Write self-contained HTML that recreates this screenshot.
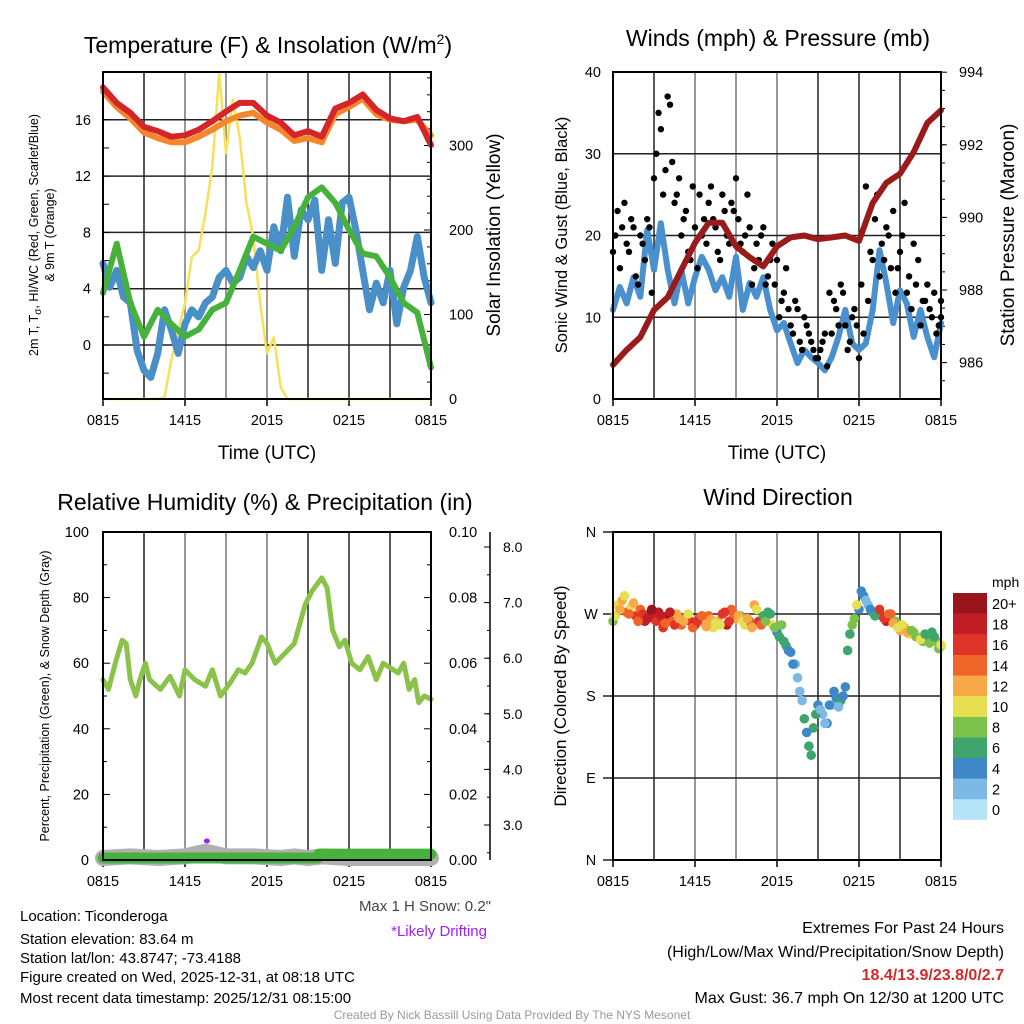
<!DOCTYPE html>
<html><head><meta charset="utf-8"><style>
body{margin:0;background:#fff;}
svg{display:block;font-family:"Liberation Sans",sans-serif;}
</style></head><body>
<svg id="fig" width="1024" height="1024" viewBox="0 0 1024 1024" xmlns="http://www.w3.org/2000/svg">
<rect width="1024" height="1024" fill="#fff"/>
<text x="268" y="53" font-size="23" text-anchor="middle">Temperature (F) &amp; Insolation (W/m<tspan font-size="14" dy="-9">2</tspan><tspan dy="9">)</tspan></text>
<text x="778" y="46" font-size="23" text-anchor="middle">Winds (mph) &amp; Pressure (mb)</text>
<text x="265" y="510" font-size="23" text-anchor="middle">Relative Humidity (%) &amp; Precipitation (in)</text>
<text x="778" y="505" font-size="23" text-anchor="middle">Wind Direction</text>
<g id="g1"></g>
<g id="g2"></g>
<g id="g3"></g>
<g id="g4"></g>
<g id="cb"></g>
<text x="38" y="235" font-size="12.5" text-anchor="middle" transform="rotate(-90 38 235)">2m T, T<tspan font-size="10" dy="3">σ</tspan><tspan dy="-3">, HI/WC (Red, Green, Scarlet/Blue)</tspan></text>
<text x="54" y="235" font-size="12.5" text-anchor="middle" transform="rotate(-90 54 235)">&amp; 9m T (Orange)</text>
<text x="500" y="235" font-size="19" text-anchor="middle" transform="rotate(-90 500 235)">Solar Insolation (Yellow)</text>
<text x="567" y="235" font-size="16.5" text-anchor="middle" transform="rotate(-90 567 235)">Sonic Wind &amp; Gust (Blue, Black)</text>
<text x="1014" y="235" font-size="19" text-anchor="middle" transform="rotate(-90 1014 235)">Station Pressure (Maroon)</text>
<text x="49" y="696" font-size="12.5" text-anchor="middle" transform="rotate(-90 49 696)">Percent, Precipitation (Green), &amp; Snow Depth (Gray)</text>
<text x="566" y="696" font-size="17" text-anchor="middle" transform="rotate(-90 566 696)">Direction (Colored By Speed)</text>
<text x="267" y="459" font-size="19" text-anchor="middle">Time (UTC)</text>
<text x="777" y="459" font-size="19" text-anchor="middle">Time (UTC)</text>
<text x="491" y="911" font-size="15" fill="#444" text-anchor="end">Max 1 H Snow: 0.2"</text>
<text x="487" y="936" font-size="15" fill="#a020f0" text-anchor="end">*Likely Drifting</text>
<g font-size="15">
<text x="20" y="921">Location: Ticonderoga</text>
<text x="20" y="944">Station elevation: 83.64 m</text>
<text x="20" y="963">Station lat/lon: 43.8747; -73.4188</text>
<text x="20" y="982">Figure created on Wed, 2025-12-31, at 08:18 UTC</text>
<text x="20" y="1003">Most recent data timestamp: 2025/12/31 08:15:00</text>
</g>
<g font-size="16" text-anchor="end">
<text x="1004" y="933">Extremes For Past 24 Hours</text>
<text x="1004" y="957">(High/Low/Max Wind/Precipitation/Snow Depth)</text>
<text x="1004" y="980" fill="#d42a2a" font-weight="bold">18.4/13.9/23.8/0/2.7</text>
<text x="1004" y="1003">Max Gust: 36.7 mph On 12/30 at 1200 UTC</text>
</g>
<text x="512" y="1019" font-size="12" fill="#999" text-anchor="middle">Created By Nick Bassill Using Data Provided By The NYS Mesonet</text>
</svg>
<script>
// ---------- data ----------
const timeLabels = ["0815","1415","2015","0215","0815"];
const tempRed = [18.3,17.2,16.5,15.5,15.2,14.8,14.9,15.3,15.9,16.6,17.2,17.2,16.3,15.8,14.9,15.2,14.8,16.8,17.2,17.8,16.7,16.1,15.9,16.2,14.2];
const tempOrange = [18.0,16.9,16.1,15.1,14.7,14.4,14.4,14.8,15.3,15.9,16.3,16.5,15.8,15.3,14.5,14.7,14.4,16.4,16.9,17.5,16.4,16.0,15.9,16.0,14.9];
const tempGreen = [3.7,7.2,3.0,0.6,2.5,1.5,0.6,1.1,2.5,3.0,5.3,7.7,7.2,6.7,8.4,10.5,11.2,10.1,8.2,6.5,6.3,4.8,3.0,2.3,-1.6];
const tempBlue = [5.8,4.1,5.3,3.4,3.0,-0.4,-1.8,-2.3,-0.6,2.5,1.1,-0.6,1.5,2.5,2.0,3.0,3.4,4.8,5.3,4.4,4.8,6.3,5.5,6.7,5.3,8.4,6.7,10.5,6.3,9.6,8.9,10.3,5.3,8.9,5.8,10.1,10.5,8.2,5.3,2.5,4.4,3.0,5.3,1.5,4.1,5.3,7.7,4.8,3.0];
const solar = [0,0,0,0,0,0,0,0,0,2,46,80,113,168,176,220,275,386,291,354,310,232,192,113,54,73,14,0,0,0,0,0,0,0,0,0,0,0,0,0,0,0,0,0,0,0,0,0,0];
const tempTicks = [0,4,8,12,16];
const solarTicks = [0,100,200,300];

const pressure = [985.94,986.35,986.7,987.45,987.8,988.55,989.3,989.85,989.85,989.2,988.9,988.65,989.2,989.45,989.5,989.4,989.45,989.5,989.35,990.4,990.95,991.2,991.8,992.6,992.95];
const sonic = [10.9,13.7,11.7,14.9,12.5,20.7,15.8,21.5,15.8,11.7,15.8,11.7,14.9,17.4,15.8,13.3,14.9,12.5,17.4,10.9,14.2,12.5,14.9,10.9,8.4,9.3,6.8,4.4,6.0,5.1,4.4,3.5,5.1,7.6,10.9,6.8,6.0,6.8,10.9,18.2,14.2,9.3,13.3,11.7,7.6,10.9,7.6,5.1,9.3];
const gustA = [18,23,21,19,22,15,20,17,21,27,35,25,37,29,25,20,23,17,21,25,22,24,22,18,25,20,24,27,19,20,21,16,17,21,15,19,17,12,16,9,12,7,10,8,6,5,7,4,8,11,14,9,7,11,5,8,12,17,25,19,21,16,13,18,24,15,19,17,12,14,10,8,12];
const gustB = [20,16,24,18,21,14,19,22,13,30,33,28,36,24,27,22,18,26,16,20,19,26,21,17,23,19,23,22,18,25,14,19,20,14,17,14,10,13,11,8,11,6,9,7,5,6,8,13,12,9,13,6,10,9,14,26,18,22,15,17,20,23,16,20,13,11,14,9,12,11,13,9,10];
const windTicks = [0,10,20,30,40];
const pressTicks = [986,988,990,992,994];

const rhHours = [0,0.4,0.9,1.4,1.7,2.0,2.4,2.7,3.1,3.4,4.2,4.9,5.6,6.0,6.7,7.5,8.0,8.6,9.3,9.9,10.4,10.9,11.6,12.0,12.6,13.3,14.0,14.8,15.3,16.0,16.4,16.8,17.3,17.7,18.2,18.8,19.4,20.0,20.5,21.6,22.0,22.4,22.8,23.1,23.5,24.0];
const rhValues = [55,52,60,67,66,55,50,55,60,55,52,56,50,58,55,53,58,50,54,58,57,60,68,66,60,63,66,78,82,86,83,70,65,67,60,58,62,55,60,57,60,52,55,48,50,49];
const snowHours = [0,2,4,6,7,7.5,8,9,11,13,14,15,16,18,20,22,24];
const snowDepth = [2.5,2.6,2.5,2.6,2.8,2.9,2.8,2.6,2.6,2.5,2.6,2.5,2.6,2.5,2.5,2.5,2.5];
const precipHours = [0,15.7,15.8,24];
const precipValues = [0,0,0.0012,0.0012];
const rhTicks = [0,20,40,60,80,100];
const precipTicks = [0,0.02,0.04,0.06,0.08,0.10];
const snowTicks = [3,4,5,6,7,8];

const windDir = [262,280,285,272,278,268,275,262,270,265,272,255,268,262,270,258,265,262,258,265,260,268,255,262,270,258,275,265,268,258,262,280,262,268,272,258,250,258,235,228,215,185,155,125,145,170,160,150,170,178,175,190,248,265,275,290,280,272,270,268,262,270,262,252,255,248,250,245,240,245,250,240,235];
const windSpd = [9,11,12,15,10,16,14,19,20,19,18,17,20,15,13,14,9,16,18,15,13,14,11,12,17,18,15,12,9,11,14,12,17,7,6,10,5,8,6,5,3,2,6,6,7,4,3,4,3,4,6,4,7,9,4,4,3,6,17,16,18,14,9,12,13,10,8,11,8,7,6,9,9];
const windDirB = [268,275,290,270,282,262,270,265,275,262,268,260,272,258,265,262,270,255,262,268,256,264,260,258,272,262,270,268,262,265,255,275,258,262,270,255,245,240,230,215,200,175,140,115,160,165,150,170,185,168,180,230,258,280,295,285,275,268,275,265,270,260,255,258,250,252,245,242,248,238,245,232,236];
const windSpdB = [10,12,11,14,12,15,16,18,21,17,19,15,18,16,12,13,11,15,17,14,12,13,10,11,16,17,14,13,10,12,13,11,15,8,7,9,6,7,5,4,2,3,5,7,6,3,2,5,4,3,5,6,8,10,5,3,4,7,16,17,15,13,10,11,12,9,9,10,7,8,7,8,10];
const dirTicks = ["N","E","S","W","N"];
const speedBins = ["0","2","4","6","8","10","12","14","16","18","20+"];
const speedColors = ["#b5e3f7","#7cb9e6","#3f88c7","#3ea56c","#7bc14b","#e6df52","#f8a947","#f0642a","#e03428","#c21d24","#9a1519"];

// ---------- helpers ----------
const NS="http://www.w3.org/2000/svg";
function mk(parent,tag,attrs){const e=document.createElementNS(NS,tag);for(const k in attrs)e.setAttribute(k,attrs[k]);parent.appendChild(e);return e;}
function lin(d0,d1,r0,r1){return v=>r0+(v-d0)*(r1-r0)/(d1-d0);}
function frame(g,x0,y0,x1,y1){
  const xs=lin(0,24,x0,x1);
  for(let h=3;h<24;h+=3){
    const l=mk(g,'line',{x1:xs(h),x2:xs(h),y1:y0,y2:y1,stroke:(h==6||h==9||h==12)?'#777':'#222','stroke-width':1.5});
    
    
  }
  for(let i=0;i<timeLabels.length;i++){
    const t=mk(g,'text',{x:xs(i*6),y:y1+26,'font-size':14.5,'text-anchor':'middle'});
    t.textContent=timeLabels[i];
    
    
    mk(g,'line',{x1:xs(i*6),x2:xs(i*6),y1:y1,y2:y1+7,stroke:'#000','stroke-width':1.5});
  }
  return xs;
}
function hgrid(g,x0,x1,y){const l=mk(g,'line',{x1:x0,x2:x1,y1:y,y2:y,stroke:'#222','stroke-width':1.5});
  
  }
function border(g,x0,y0,x1,y1){const r=mk(g,'rect',{x:x0,y:y0,width:x1-x0,height:y1-y0,fill:'none',stroke:'#000','stroke-width':2});
  
  }
function path(g,xsArr,ysArr,color,w,name){
  let d='';for(let i=0;i<xsArr.length;i++)d+=(i?'L':'M')+xsArr[i].toFixed(1)+' '+ysArr[i].toFixed(1);
  const p=mk(g,'path',{d:d,fill:'none',stroke:color,'stroke-width':w,'stroke-linejoin':'round','stroke-linecap':'round'});
  
  
  return p;
}
function tlabel(g,x,y,txt,anchor,size){const t=mk(g,'text',{x:x,y:y+5,'font-size':size||14.5,'text-anchor':anchor});t.textContent=txt;
  
  }
const hrs=(n)=>Array.from({length:n},(_,i)=>i*24/(n-1));

// ---------- panel 1 ----------
(function(){
  const g=document.getElementById('g1');const X0=103,Y0=72,X1=431,Y1=399;
  const xs=frame(g,X0,Y0,X1,Y1);
  const ys=lin(0,4,345,288.7);
  const ysS=lin(0,100,399,314.5);
  tempTicks.forEach(v=>{hgrid(g,X0,X1,ys(v));tlabel(g,X0-12,ys(v),String(v),'end');});
  for(let v=-2;v<=18;v+=2)mk(g,'line',{x1:X0,x2:X0+6,y1:ys(v),y2:ys(v),stroke:'#000'});
  solarTicks.forEach(v=>{tlabel(g,X1+18,ysS(v),String(v),'start');mk(g,'line',{x1:X1,x2:X1-7,y1:ysS(v),y2:ysS(v),stroke:'#000'});});
  for(let v=20;v<=380;v+=20)mk(g,'line',{x1:X1,x2:X1-4,y1:ysS(v),y2:ysS(v),stroke:'#000'});
  const h25=hrs(25),h49=hrs(49);
  path(g,hrs(solar.length).map(xs),solar.map(ysS),'#f7e15a',2.5,'solar-insolation-line');
  path(g,h49.map(xs),tempBlue.map(ys),'#4a8fc8',7,'scarlet-blue-line');
  path(g,h25.map(xs),tempGreen.map(ys),'#46b23c',6,'heat-index-windchill-line');
  path(g,h25.map(xs),tempOrange.map(ys),'#f5862c',6,'9m-temp-line');
  path(g,h25.map(xs),tempRed.map(ys),'#d42528',6,'2m-temp-line');
  border(g,X0,Y0,X1,Y1);
})();

// ---------- panel 2 ----------
(function(){
  const g=document.getElementById('g2');const X0=613,Y0=72,X1=941,Y1=399;
  const xs=frame(g,X0,Y0,X1,Y1);
  const ys=lin(0,10,399,317.25);
  const yp=lin(986,988,362.6,290);
  windTicks.forEach(v=>{hgrid(g,X0,X1,ys(v));tlabel(g,X0-12,ys(v),String(v),'end');});
  pressTicks.forEach(v=>{tlabel(g,X1+18,yp(v),String(v),'start');mk(g,'line',{x1:X1,x2:X1+6,y1:yp(v),y2:yp(v),stroke:'#000'});});
  for(let v=985.5;v<994;v+=0.5)mk(g,'line',{x1:X1,x2:X1+4,y1:yp(v),y2:yp(v),stroke:'#000'});
  path(g,hrs(49).map(xs),sonic.map(ys),'#4a90ce',6,'sonic-wind-line');
  const hA=hrs(gustA.length),hB=hrs(gustB.length);
  gustA.forEach((v,i)=>{const c=mk(g,'circle',{cx:xs(hA[i]),cy:ys(v),r:3.2,fill:'#000'});
    
    });
  gustB.forEach((v,i)=>{const c=mk(g,'circle',{cx:xs(Math.min(24,hB[i]+0.17)),cy:ys(v),r:3.2,fill:'#000'});
    
    });
  path(g,hrs(25).map(xs),pressure.map(yp),'#9a1b1b',6,'pressure-line');
  border(g,X0,Y0,X1,Y1);
})();

// ---------- panel 3 ----------
(function(){
  const g=document.getElementById('g3');const X0=103,Y0=532,X1=431,Y1=860;
  const xs=frame(g,X0,Y0,X1,Y1);
  const ys=lin(0,100,860,532);
  const yP=lin(0,0.1,860,532);
  const yS=lin(3,8,825,547);
  rhTicks.forEach(v=>{tlabel(g,X0-14,ys(v),String(v),'end');mk(g,'line',{x1:X0,x2:X0+7,y1:ys(v),y2:ys(v),stroke:'#000'});});
  for(let v=10;v<100;v+=20)mk(g,'line',{x1:X0,x2:X0+4,y1:ys(v),y2:ys(v),stroke:'#000'});
  precipTicks.forEach(v=>{tlabel(g,X1+18,yP(v),v.toFixed(2),'start');mk(g,'line',{x1:X1,x2:X1-7,y1:yP(v),y2:yP(v),stroke:'#000'});});
  for(let v=0.01;v<0.1;v+=0.02)mk(g,'line',{x1:X1,x2:X1-4,y1:yP(v),y2:yP(v),stroke:'#000'});
  const ax=mk(g,'line',{x1:490,x2:490,y1:532,y2:860,stroke:'#000','stroke-width':1.5});
  
  
  snowTicks.forEach(v=>{tlabel(g,503,yS(v),v.toFixed(1),'start',14);mk(g,'line',{x1:490,x2:484,y1:yS(v),y2:yS(v),stroke:'#000'});});
  for(let v=2.5;v<=8;v+=0.5)mk(g,'line',{x1:490,x2:487,y1:yS(v),y2:yS(v),stroke:'#000'});
  const ysd=lin(2.5,3.0,858,850);
  path(g,snowHours.map(xs),snowDepth.map(ysd),'#b0b0b0',16,'snow-depth-line');
  path(g,precipHours.map(xs),precipValues.map(v=>yP(v)-2),'#46b23c',11,'precipitation-line');
  const d=mk(g,'ellipse',{cx:xs(7.6),cy:841,rx:3,ry:2.5,fill:'#a020f0'});
  
  
  path(g,rhHours.map(xs),rhValues.map(ys),'#8bc34a',5,'relative-humidity-line');
  border(g,X0,Y0,X1,Y1);
})();

// ---------- panel 4 ----------
(function(){
  const g=document.getElementById('g4');const X0=613,Y0=532,X1=941,Y1=860;
  const xs=frame(g,X0,Y0,X1,Y1);
  const ys=lin(0,90,860,778);
  dirTicks.forEach((t,i)=>{hgrid(g,X0-10,X1,ys(i*90));tlabel(g,591,ys(i*90),t,'middle');});
  function dots(dirs,spds,off){
    const hh=hrs(dirs.length);
    dirs.forEach((v,i)=>{
      const bin=Math.min(10,Math.max(0,Math.floor(spds[i]/2)));
      const c=mk(g,'circle',{cx:xs(Math.min(24,hh[i]+off)),cy:ys(v),r:4.8,fill:speedColors[bin]});
      
      
    });
  }
  dots(windDir,windSpd,0);
  dots(windDirB,windSpdB,0.17);
  border(g,X0,Y0,X1,Y1);
  const cb=document.getElementById('cb');
  const t=mk(cb,'text',{x:992,y:587,'font-size':14,'text-anchor':'start'});t.textContent='mph';
  
  
  speedBins.forEach((lab,i)=>{
    const y=593+(10-i)*20.6;
    const r=mk(cb,'rect',{x:953,y:y,width:34,height:20.8,fill:speedColors[i]});
    
    
    const tx=mk(cb,'text',{x:992,y:y+16,'font-size':14.5});tx.textContent=lab;
    
    
  });
})();
</script>
</body></html>
